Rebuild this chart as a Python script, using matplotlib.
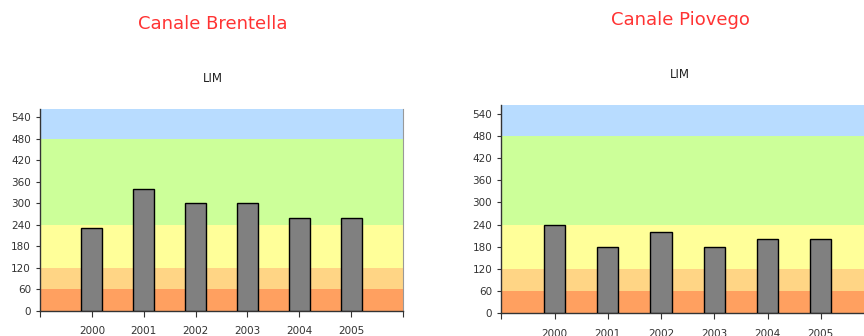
import matplotlib
matplotlib.use("Agg")
import matplotlib.pyplot as plt

years = ["2000", "2001", "2002", "2003", "2004", "2005"]
brentella = [230, 340, 300, 300, 260, 260]
piovego = [240, 180, 220, 180, 200, 200]

band_edges = [0, 60, 120, 240, 480, 563]
band_colors = ["#FFA060", "#FFD585", "#FFFF99", "#CCFF99", "#B8DCFF"]
yticks = [0, 60, 120, 180, 240, 300, 360, 420, 480, 540]

fig = plt.figure(figsize=(8.64, 3.36), dpi=100)
fig.patch.set_facecolor("white")


def draw_panel(rect, values, title, title_xy, sub_xy):
    ax = fig.add_axes(rect)
    for lo, hi, c in zip(band_edges[:-1], band_edges[1:], band_colors):
        ax.axhspan(lo, hi, color=c, lw=0, zorder=0)
    x = list(range(len(values)))
    ax.bar(x, values, width=0.4, color="#808080", edgecolor="black",
           linewidth=1.0, zorder=3)
    ax.set_xlim(-1, 6)
    ax.set_ylim(0, band_edges[-1])
    ax.set_yticks(yticks)
    ax.set_xticks(range(-1, 7))
    ax.set_xticklabels([""] + years + [""])
    ax.tick_params(axis="both", labelsize=7.5, colors="#333333",
                   direction="out", length=3, width=0.8)
    ax.tick_params(axis="x", length=4, pad=7)
    for s in ("left", "bottom"):
        ax.spines[s].set_color("#333333")
        ax.spines[s].set_linewidth(1.0)
    ax.spines["top"].set_visible(False)
    ax.spines["right"].set_color("#999999")
    ax.spines["right"].set_linewidth(0.8)
    fig.text(title_xy[0], title_xy[1], title, color="#FF3333",
             fontsize=13, ha="center", va="center", family="DejaVu Sans")
    fig.text(sub_xy[0], sub_xy[1], "LIM", color="#222222",
             fontsize=8.5, ha="center", va="center")
    return ax


draw_panel([40 / 864, 25 / 336, 363 / 864, 202 / 336], brentella,
           "Canale Brentella", (213 / 864, 1 - 24 / 336), (213 / 864, 1 - 78 / 336))
draw_panel([501.3 / 864, 22.7 / 336, 372.7 / 864, 208 / 336], piovego,
           "Canale Piovego", (680 / 864, 1 - 20 / 336), (680 / 864, 1 - 74 / 336))

fig.savefig("out.png", dpi=100)
